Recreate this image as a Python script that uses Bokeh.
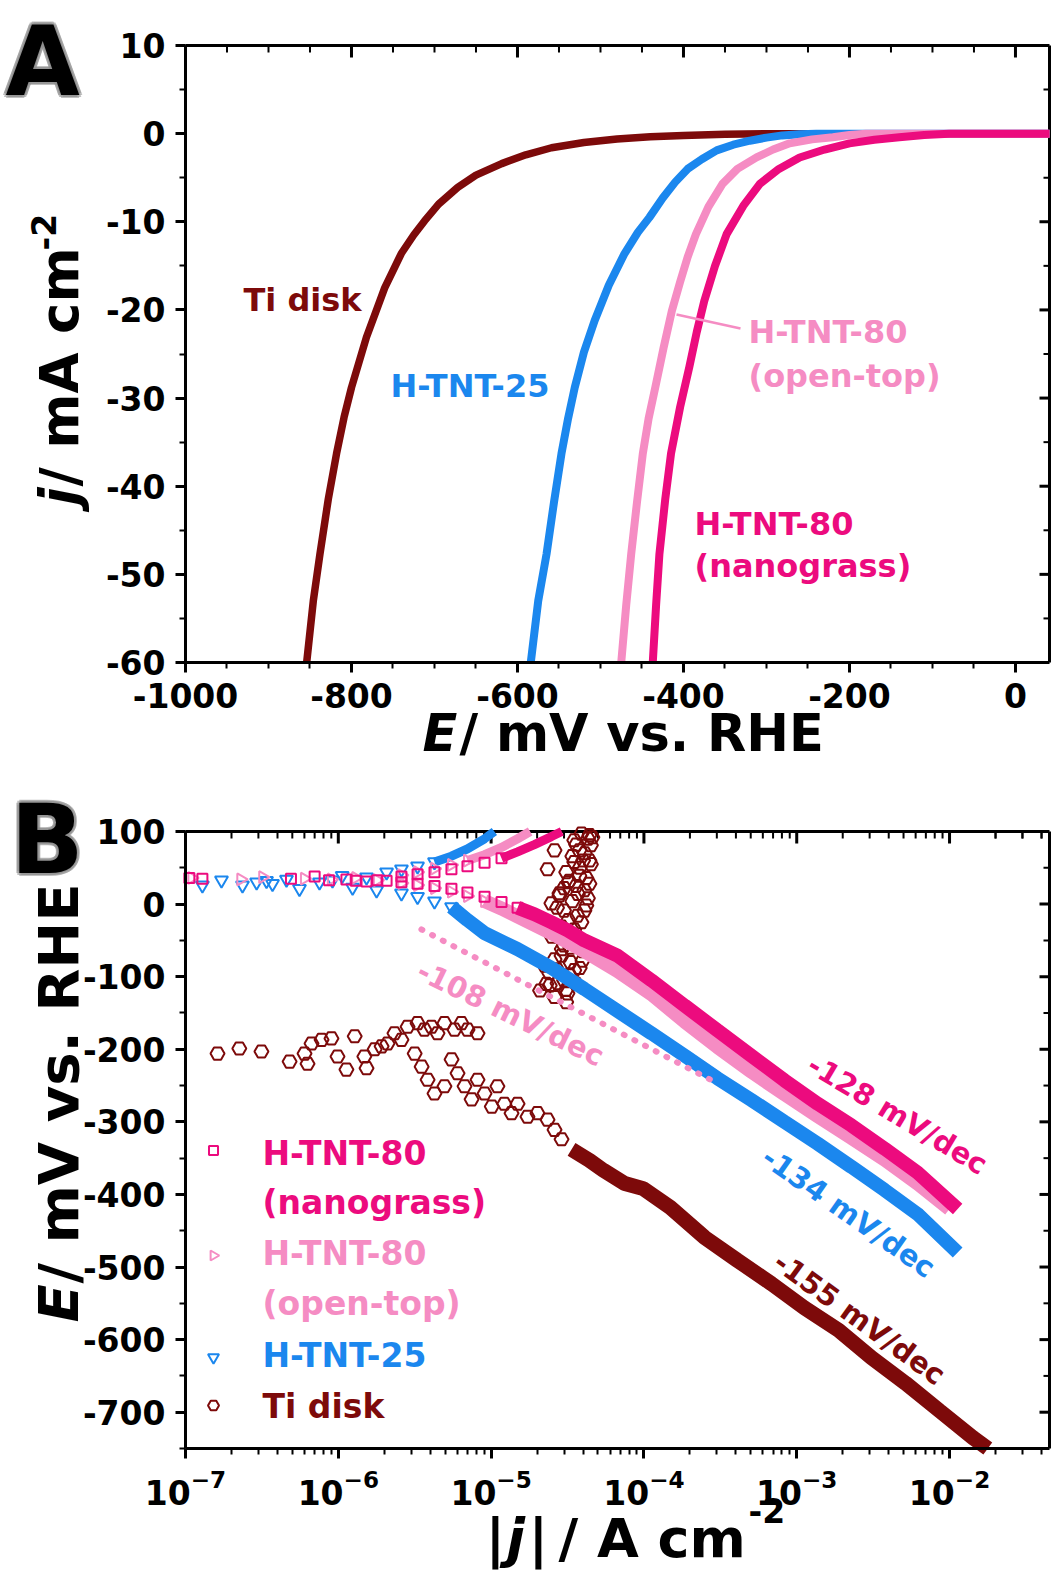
import math
from bokeh.plotting import figure
from bokeh.layouts import column
from bokeh.models import (Range1d, LinearAxis, LogAxis, FixedTicker, SingleIntervalTicker, Label,
                          PrintfTickFormatter, LogTickFormatter)
from bokeh.embed import file_html
from bokeh.resources import INLINE

FONT = "DejaVu Sans"
C_TI = "#7d0a0a"
C_25 = "#1b87ee"
C_OT = "#f58cc3"
C_NG = "#ec0b7e"

# ---------------- Panel A data (E / mV, j / mA cm-2) ----------------
ti_E = [-854, -846, -838, -828, -818, -809, -800, -782, -760, -740, -725, -712, -695, -672, -650,
        -619, -590, -559, -520, -480, -440, -400, -350, -300, 41]
ti_j = [-60, -53, -47.7, -41.5, -36.3, -32.2, -28.8, -23.1, -17.5, -13.6, -11.5, -9.9, -8.0, -6.1, -4.7,
        -3.4, -2.4, -1.6, -1.0, -0.6, -0.35, -0.2, -0.08, 0, 0]

t25A_E = [-584, -575, -565, -556, -547, -539, -531, -520, -507, -490, -471, -455, -441, -425, -410,
          -395, -378, -360, -340, -320, -300, -281, -260, -240, 41]
t25A_j = [-60, -53, -47.7, -41.8, -36.3, -32.3, -28.8, -24.8, -21.2, -17.2, -13.6, -11.2, -9.5, -7.3, -5.5,
          -4.0, -2.9, -1.9, -1.25, -0.8, -0.45, -0.2, -0.07, 0, 0]

otA_E = [-475, -469, -463, -456, -449, -442, -434, -424, -414, -404, -395, -385, -370, -353, -335,
         -312, -292, -272, -245, -220, -200, -180, 41]
otA_j = [-60, -53.5, -47.7, -41.8, -36.3, -32.3, -28.8, -24.3, -20.1, -16.8, -14.0, -11.4, -8.3, -5.7, -4.0,
         -2.7, -1.8, -1.1, -0.65, -0.4, -0.15, 0, 0]

ngA_E = [-437, -433, -429, -422, -415, -404, -393, -384, -375, -362, -348, -328, -308, -285, -260,
         -230, -200, -170, -140, -110, -80, 41]
ngA_j = [-60, -53.5, -47.7, -41.5, -36.3, -31.0, -26.5, -22.5, -19.0, -15.0, -11.4, -8.2, -5.7, -4.0, -2.7,
         -1.8, -1.1, -0.7, -0.4, -0.15, 0, 0]

# ---------------- Panel B data (|j| / A cm-2, E / mV) ----------------
ng_j = [1.06e-7, 1.29e-7, 4.9e-7, 7.0e-7, 8.7e-7, 1.13e-6, 1.3e-6, 1.53e-6, 1.8e-6, 2.07e-6,
        2.59e-6, 3.3e-6, 4.26e-6, 5.5e-6, 7.0e-6, 9.06e-6, 1.17e-5,
        2.59e-6, 3.3e-6, 4.26e-6, 5.5e-6, 7.0e-6, 9.06e-6, 1.17e-5, 1.49e-5]
ng_E = [36, 35, 35, 38, 33, 34, 32, 31, 33, 32,
        38, 41, 44, 48, 52, 57, 63,
        30, 28, 25, 21, 16, 10, 3, -5]
ng_up_j = [1.17e-5, 1.49e-5, 1.92e-5, 2.48e-5, 2.9e-5]
ng_up_E = [63, 72, 82, 93, 100]
ng_band_j = [1.49e-5, 1.92e-5, 2.48e-5, 3.16e-5, 4.08e-5, 6.71e-5, 1.12e-4, 1.85e-4, 3.03e-4,
             5.06e-4, 8.32e-4, 1.37e-3, 2.28e-3, 3.76e-3, 6.18e-3, 1.13e-2]
ng_band_E = [-5, -14, -25, -36, -50, -71, -105, -140, -174, -209, -243, -275, -305, -337, -370, -420]

ot_j = [1.1e-7, 2.3e-7, 3.2e-7, 6.0e-7, 9.0e-7, 1.3e-6, 1.8e-6,
        2.6e-6, 3.3e-6, 4.26e-6, 5.5e-6, 7.0e-6,
        2.6e-6, 3.3e-6, 4.26e-6, 5.5e-6, 7.0e-6, 9.06e-6]
ot_E = [36, 34, 37, 35, 34, 36, 33,
        40, 44, 49, 54, 60,
        29, 26, 22, 17, 11, 4]
ot_up_j = [7.0e-6, 9.06e-6, 1.17e-5, 1.49e-5, 1.8e-5]
ot_up_E = [60, 68, 78, 90, 100]
ot_band_j = [9.06e-6, 1.17e-5, 1.49e-5, 2.48e-5, 4.08e-5, 6.71e-5, 1.12e-4, 1.85e-4, 3.03e-4,
             5.06e-4, 8.32e-4, 1.37e-3, 2.28e-3, 3.76e-3, 6.18e-3, 1.0e-2]
ot_band_E = [4, -6, -17, -40, -65, -92, -124, -162, -197, -231, -262, -292, -322, -352, -385, -420]

t25_j = [1.29e-7, 1.72e-7, 2.36e-7, 2.92e-7, 3.39e-7, 3.71e-7, 4.58e-7, 5.57e-7, 7.53e-7, 9.16e-7,
         1.06e-6, 1.53e-6, 2.07e-6, 2.59e-6, 3.3e-6, 4.26e-6,
         1.24e-6, 1.78e-6, 2.59e-6, 3.3e-6, 4.26e-6, 5.51e-6]
t25_E = [26, 33, 26, 30, 32, 28, 34, 21, 30, 33,
         39, 37, 44, 48, 52, 58,
         23, 19, 15, 10, 4, -4]
t25_up_j = [4.26e-6, 5.5e-6, 7.0e-6, 9.06e-6, 1.05e-5]
t25_up_E = [58, 66, 76, 90, 100]
t25_band_j = [5.51e-6, 7.0e-6, 9.06e-6, 1.49e-5, 2.48e-5, 4.08e-5, 6.71e-5, 1.12e-4, 1.85e-4, 3.03e-4,
              5.06e-4, 8.32e-4, 1.37e-3, 2.28e-3, 3.76e-3, 6.18e-3, 1.13e-2]
t25_band_E = [-4, -22, -40, -62, -88, -117, -147, -178, -209, -240, -270, -300, -330, -362, -394, -427, -480]

ti_sc_j = [1.62e-7, 2.25e-7, 3.14e-7, 4.8e-7, 6.01e-7, 6.29e-7, 6.68e-7, 7.77e-7, 9.02e-7, 9.88e-7,
           1.13e-6, 1.28e-6, 1.48e-6, 1.53e-6, 1.73e-6, 1.92e-6, 2.1e-6, 2.33e-6, 2.59e-6, 2.84e-6,
           3.3e-6, 3.66e-6, 4.07e-6, 4.46e-6, 4.95e-6, 5.76e-6, 6.39e-6, 7.01e-6, 8.15e-6, 3.16e-6,
           3.51e-6, 3.84e-6, 4.26e-6, 4.95e-6, 5.51e-6, 6.03e-6, 6.7e-6, 7.45e-6, 8.15e-6, 9.06e-6,
           1.01e-5, 1.1e-5, 1.22e-5, 1.36e-5, 1.49e-5, 1.73e-5, 2.01e-5, 2.34e-5, 2.6e-5, 2.89e-5,
           2.34e-5, 2.48e-5, 2.89e-5, 2.6e-5, 2.72e-5, 3.16e-5, 3.5e-5, 3.78e-5, 3.24e-5, 4.08e-5,
           2.8e-5, 3.67e-5, 4.4e-5, 3.0e-5, 2.24e-5, 3.5e-5, 4.4e-5, 2.6e-5, 4.08e-5, 3.36e-5,
           2.89e-5, 2.42e-5, 3.0e-5, 3.78e-5, 4.5e-5, 2.34e-5, 3.96e-5, 3.24e-5, 2.09e-5,
           3.9e-5, 4.3e-5, 3.6e-5, 4.1e-5, 3.4e-5, 4.5e-5, 3.8e-5, 3.1e-5, 4.2e-5, 3.6e-5,
           3.0e-5, 4.3e-5, 3.4e-5, 2.7e-5, 3.9e-5, 3.2e-5, 2.5e-5, 3.7e-5, 2.9e-5, 4.0e-5,
           3.3e-5, 2.4e-5, 3.0e-5, 3.6e-5, 2.6e-5, 3.1e-5,
           4.6e-5, 4.0e-5, 3.5e-5, 4.4e-5, 3.7e-5, 3.2e-5, 4.2e-5, 3.5e-5, 2.8e-5, 3.3e-5,
           2.7e-5, 3.8e-5, 3.1e-5, 2.3e-5, 2.8e-5]
ti_sc_E = [-206, -199, -203, -217, -206, -220, -192, -187, -185, -210,
           -228, -182, -210, -226, -200, -196, -192, -178, -187, -169,
           -164, -173, -169, -178, -164, -173, -164, -173, -178, -206,
           -224, -242, -261, -251, -214, -233, -251, -269, -242, -261,
           -279, -251, -275, -288, -275, -293, -288, -297, -311, -324,
           48, 1, -31, -76, -109, -123, 88, 74, 32, 19,
           12, -16, 60, -57, -85, -91, 95, 74, -9, -43,
           -71, -112, -9, 39, 81, -30, -78, -98, -119,
           97, 90, 82, 70, 66, 55, 50, 44, 36, 25,
           22, 8, 4, -5, -25, -22, -45, -50, -62, -65,
           -80, -95, -105, -110, -128, -135,
           92, 60, 58, 28, 14, 30, -2, -35, -40, -60,
           -90, -88, -118, -110, 15]
ti_band_j = [3.36e-5, 4.4e-5, 5.45e-5, 7.5e-5, 9.9e-5, 1.49e-4, 2.49e-4, 4.1e-4, 6.84e-4,
             1.12e-3, 1.88e-3, 3.09e-3, 5.15e-3, 8.6e-3, 1.42e-2, 1.78e-2]
ti_band_E = [-338, -353, -367, -385, -392, -418, -459, -491, -523, -556, -587, -625, -660, -698, -735, -750]

fit108_j = [3.5e-6, 3.03e-4]
fit108_E = [-35, -247]

x_ticks_B = [1e-7, 1e-6, 1e-5, 1e-4, 1e-3, 1e-2]

# ---------------- geometry (page pixels) ----------------
SPLIT = 780            # page row where panel B's canvas starts
A_L, A_R, A_T, A_B = 185, 1049, 45, 662
A_X = (-1000, 41)
A_Y = (-60, 10)
B_L, B_R, B_T, B_B = 185, 1049, 831, 1448
B_X = (1e-7, 0.0451)
B_Y = (-750, 100)
A_PPX = (A_R - A_L) / (A_X[1] - A_X[0])
A_PPY = (A_B - A_T) / (A_Y[1] - A_Y[0])
B_PPD = (B_R - B_L) / (math.log10(B_X[1]) - math.log10(B_X[0]))
B_PPY = (B_B - B_T) / (B_Y[1] - B_Y[0])


def ax_(X):
    return A_X[0] + (X - A_L) / A_PPX


def ay_(Y):
    return A_Y[1] - (Y - A_T) / A_PPY


def bx_(X):
    return 10 ** (math.log10(B_X[0]) + (X - B_L) / B_PPD)


def by_(Y):
    return B_Y[1] - (Y - B_T) / B_PPY


MAPS = {"A": (ax_, ay_), "B": (bx_, by_)}


def style_axis(ax):
    ax.axis_line_width = 3
    ax.axis_line_color = "black"
    ax.major_tick_line_width = 3
    ax.minor_tick_line_width = 2
    ax.major_tick_line_color = "black"
    ax.minor_tick_line_color = "black"
    ax.major_tick_in = 0
    ax.major_tick_out = 10
    ax.minor_tick_in = 0
    ax.minor_tick_out = 6
    ax.major_label_text_font = FONT
    ax.major_label_text_font_style = "bold"
    ax.major_label_text_font_size = "33px"
    ax.major_label_text_color = "black"
    ax.major_label_standoff = 10


def txt(p, panel, X, Y, s, color="black", size=32, style="bold", angle=0, alpha=1.0, dx=0, dy=0):
    """X, Y: page pixels of the text start on its baseline (angle 0 or 90)."""
    fx, fy = MAPS[panel]
    if angle == 90:
        ax, ay = X - 0.365 * size - 9, Y
    else:
        ax, ay = X, Y - 0.365 * size
    p.add_layout(Label(x=fx(ax), y=fy(ay), x_offset=dx, y_offset=dy, text=s, text_font=FONT,
                       text_font_style=style, text_font_size=f"{size}px", text_color=color,
                       text_alpha=alpha, text_align="left", text_baseline="middle",
                       angle=angle, angle_units="deg"))


def ctxt(p, panel, X, Y, s, color, size, angle):
    fx, fy = MAPS[panel]
    p.add_layout(Label(x=fx(X), y=fy(Y), text=s, text_font=FONT, text_font_style="bold",
                       text_font_size=f"{size}px", text_color=color, text_align="center",
                       text_baseline="middle", angle=angle, angle_units="deg"))


def panel_letter(p, panel, X, Y, s, size):
    for dx, dy in [(-3, 0), (3, 0), (0, -3), (0, 3), (-2, -2), (2, 2), (-2, 2), (2, -2)]:
        txt(p, panel, X, Y, s, color="#8c8c8c", size=size, alpha=0.55, dx=dx, dy=dy)
    txt(p, panel, X, Y, s, color="black", size=size)


def new_fig(h, xr, yr, xtype="linear"):
    p = figure(width=1052, height=h, x_range=xr, y_range=yr, x_axis_type=xtype,
               x_axis_location=None, y_axis_location=None,
               output_backend="svg", toolbar_location=None,
               min_border=0, min_border_left=0, min_border_right=0, min_border_top=0, min_border_bottom=0)
    p.grid.visible = False
    p.outline_line_color = None
    p.background_fill_color = "white"
    p.border_fill_color = "white"
    return p


# ======================= Panel A =======================
pA = new_fig(SPLIT, Range1d(ax_(0), ax_(1052)), Range1d(ay_(SPLIT), ay_(0)))

xA = LinearAxis(fixed_location=A_Y[0], bounds=A_X,
                ticker=SingleIntervalTicker(interval=200, num_minor_ticks=4),
                formatter=PrintfTickFormatter(format="%d"))
style_axis(xA)
pA.add_layout(xA, "below")
yA = LinearAxis(fixed_location=A_X[0], bounds=A_Y,
                ticker=SingleIntervalTicker(interval=10, num_minor_ticks=2),
                formatter=PrintfTickFormatter(format="%d"))
style_axis(yA)
pA.add_layout(yA, "left")

# top / right frame with inward ticks
pA.line([A_X[0], A_X[1]], [A_Y[1], A_Y[1]], line_width=3, color="black")
pA.line([A_X[1], A_X[1]], [A_Y[0], A_Y[1]], line_width=3, color="black")
topA_major = list(range(-1000, 1, 200))
topA_minor = [v for v in range(-950, 41, 50) if v % 200 != 0]
pA.segment(topA_major, [A_Y[1]] * len(topA_major), topA_major,
           [A_Y[1] - 12 / A_PPY] * len(topA_major), line_width=3, color="black")
pA.segment(topA_minor, [A_Y[1]] * len(topA_minor), topA_minor,
           [A_Y[1] - 7 / A_PPY] * len(topA_minor), line_width=2, color="black")
rA_major = list(range(-50, 10, 10))
rA_minor = list(range(-55, 10, 10))
pA.segment([A_X[1]] * len(rA_major), rA_major, [A_X[1] - 10 / A_PPX] * len(rA_major), rA_major,
           line_width=3, color="black")
pA.segment([A_X[1]] * len(rA_minor), rA_minor, [A_X[1] - 6 / A_PPX] * len(rA_minor), rA_minor,
           line_width=2, color="black")

pA.line(ti_E, ti_j, line_width=7.5, color=C_TI, line_join="round")
pA.line(t25A_E, t25A_j, line_width=8, color=C_25, line_join="round")
pA.line(otA_E, otA_j, line_width=8, color=C_OT, line_join="round")
pA.line(ngA_E, ngA_j, line_width=8, color=C_NG, line_join="round")

# leader line for open-top label
pA.line([ax_(676), ax_(740)], [ay_(314), ay_(328)], line_width=2.5, color=C_OT)

txt(pA, "A", 243, 311, "Ti disk", C_TI)
txt(pA, "A", 390, 397, "H-TNT-25", C_25)
txt(pA, "A", 748, 343, "H-TNT-80", C_OT)
txt(pA, "A", 748, 387, "(open-top)", C_OT)
txt(pA, "A", 694, 535, "H-TNT-80", C_NG)
txt(pA, "A", 694, 577, "(nanograss)", C_NG)

# axis titles
txt(pA, "A", 422, 752, "E", size=51, style="bold italic")
txt(pA, "A", 459, 752, "/ mV vs. RHE", size=51)
txt(pA, "A", 87, 505, "j", size=53, style="bold italic", angle=90)
txt(pA, "A", 87, 486, "/ mA cm", size=53, angle=90)
txt(pA, "A", 64, 250, "-2", size=33, angle=90)

panel_letter(pA, "A", 5, 97, "A", 96)

# ======================= Panel B =======================
pB = new_fig(1576 - SPLIT, Range1d(bx_(0), bx_(1052)), Range1d(by_(1576), by_(SPLIT)), xtype="log")

minorB = [m * 10.0 ** e for e in range(-7, -1) for m in range(2, 10)] + [2e-2, 3e-2, 4e-2]
xB = LogAxis(fixed_location=B_Y[0], bounds=B_X,
             ticker=FixedTicker(ticks=x_ticks_B, minor_ticks=minorB),
             formatter=LogTickFormatter())
style_axis(xB)
pB.add_layout(xB, "below")
yB = LinearAxis(fixed_location=B_X[0], bounds=B_Y,
                ticker=SingleIntervalTicker(interval=100, num_minor_ticks=2),
                formatter=PrintfTickFormatter(format="%d"))
style_axis(yB)
pB.add_layout(yB, "left")

pB.line([B_X[0], B_X[1]], [B_Y[1], B_Y[1]], line_width=3, color="black")
pB.line([B_X[1], B_X[1]], [B_Y[0], B_Y[1]], line_width=3, color="black")
pB.segment(x_ticks_B, [B_Y[1]] * len(x_ticks_B), x_ticks_B,
           [B_Y[1] - 12 / B_PPY] * len(x_ticks_B), line_width=3, color="black")
pB.segment(minorB, [B_Y[1]] * len(minorB), minorB,
           [B_Y[1] - 7 / B_PPY] * len(minorB), line_width=2, color="black")
rB_major = list(range(-700, 100, 100))
rB_minor = list(range(-650, 100, 100))
kx10 = 10 ** (-10 / B_PPD)
kx6 = 10 ** (-6 / B_PPD)
pB.segment([B_X[1]] * len(rB_major), rB_major, [B_X[1] * kx10] * len(rB_major), rB_major,
           line_width=3, color="black")
pB.segment([B_X[1]] * len(rB_minor), rB_minor, [B_X[1] * kx6] * len(rB_minor), rB_minor,
           line_width=2, color="black")

# Ti disk
pB.line(ti_band_j, ti_band_E, line_width=15, color=C_TI)
pB.scatter(ti_sc_j, ti_sc_E, marker="hex", size=14, fill_alpha=0, line_color=C_TI, line_width=2)
# H-TNT-25
pB.line(t25_band_j, t25_band_E, line_width=14, color=C_25)
pB.line(t25_up_j, t25_up_E, line_width=9, color=C_25)
pB.scatter(t25_j, t25_E, marker="inverted_triangle", size=13, fill_alpha=0, line_color=C_25, line_width=2)
# H-TNT-80 open-top
pB.line(ot_band_j, ot_band_E, line_width=14, color=C_OT)
pB.line(ot_up_j, ot_up_E, line_width=9, color=C_OT)
pB.scatter(ot_j, ot_E, marker="triangle", angle=-90, angle_units="deg", size=12, fill_alpha=0,
           line_color=C_OT, line_width=2)
# H-TNT-80 nanograss
pB.line(ng_band_j, ng_band_E, line_width=14, color=C_NG)
pB.line(ng_up_j, ng_up_E, line_width=9, color=C_NG)
pB.scatter(ng_j, ng_E, marker="square", size=10, fill_alpha=0, line_color=C_NG, line_width=2)

# Tafel fit line
pB.line(fit108_j, fit108_E, line_width=6, color=C_OT, line_dash="1 11", line_cap="round")

# slope labels
ctxt(pB, "B", 510, 1013, "-108 mV/dec", C_OT, 29, -26)
ctxt(pB, "B", 897, 1114, "-128 mV/dec", C_NG, 29, -31)
ctxt(pB, "B", 848, 1212, "-134 mV/dec", C_25, 29, -35)
ctxt(pB, "B", 859, 1318, "-155 mV/dec", C_TI, 29, -36)

# legend
leg_X = 213
pB.scatter([bx_(leg_X)], [by_(1150)], marker="square", size=9, fill_alpha=0, line_color=C_NG, line_width=2)
pB.scatter([bx_(leg_X)], [by_(1255)], marker="triangle", angle=-90, angle_units="deg", size=10,
           fill_alpha=0, line_color=C_OT, line_width=2)
pB.scatter([bx_(leg_X)], [by_(1357)], marker="inverted_triangle", size=11, fill_alpha=0, line_color=C_25, line_width=2)
pB.scatter([bx_(leg_X)], [by_(1405)], marker="hex", size=11, fill_alpha=0, line_color=C_TI, line_width=2)
txt(pB, "B", 262, 1165, "H-TNT-80", C_NG, size=33)
txt(pB, "B", 262, 1214, "(nanograss)", C_NG, size=33)
txt(pB, "B", 262, 1265, "H-TNT-80", C_OT, size=33)
txt(pB, "B", 262, 1315, "(open-top)", C_OT, size=33)
txt(pB, "B", 262, 1367, "H-TNT-25", C_25, size=33)
txt(pB, "B", 262, 1418, "Ti disk", C_TI, size=33)

# axis titles
txt(pB, "B", 87, 1322, "E", size=56, style="bold italic", angle=90)
txt(pB, "B", 87, 1283, "/ mV vs. RHE", size=56, angle=90)
txt(pB, "B", 485, 1558, "|", size=54)
txt(pB, "B", 506, 1558, "j", size=54, style="bold italic")
txt(pB, "B", 528, 1558, "|", size=54)
txt(pB, "B", 558, 1558, "/ A cm", size=54)
txt(pB, "B", 748, 1522, "-2", size=33)

panel_letter(pB, "B", 10, 875, "B", 96)

layout = column(pA, pB, spacing=0)
open("out.html", "w").write(file_html(layout, INLINE))
